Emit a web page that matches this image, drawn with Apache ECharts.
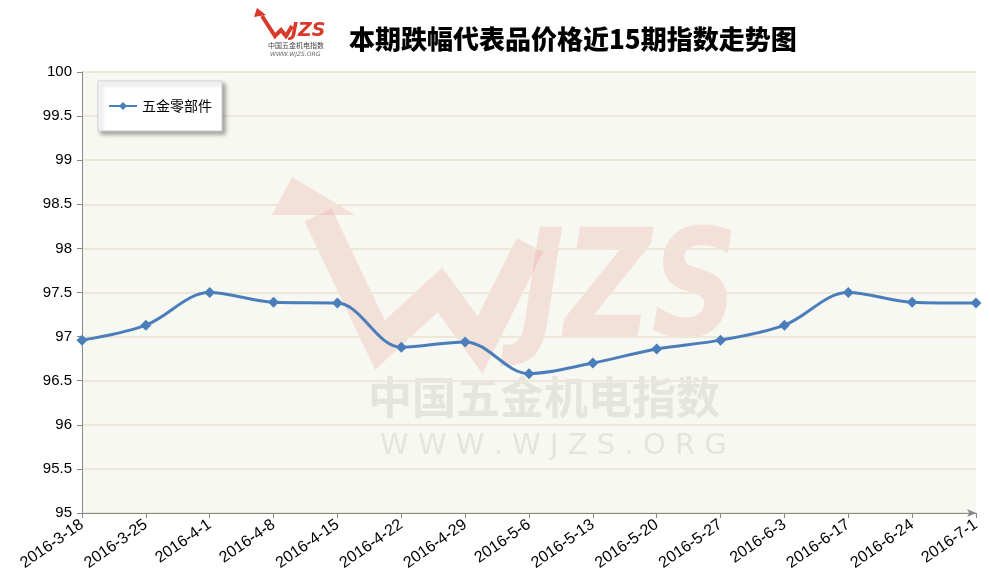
<!DOCTYPE html>
<html><head><meta charset="utf-8">
<script src="https://cdn.jsdelivr.net/npm/echarts@6/dist/echarts.min.js"></script>
<style>html,body{margin:0;padding:0;background:#fff}#c{width:990px;height:584px}</style>
</head><body><div id="c"></div>
<script>
const categories = ['2016-3-18','2016-3-25','2016-4-1','2016-4-8','2016-4-15','2016-4-22','2016-4-29','2016-5-6','2016-5-13','2016-5-20','2016-5-27','2016-6-3','2016-6-17','2016-6-24','2016-7-1'];
const seriesName = '五金零部件';
const values = [96.96, 97.13, 97.50, 97.39, 97.38, 96.88, 96.94, 96.58, 96.70, 96.86, 96.96, 97.13, 97.50, 97.39, 97.38];
const titleText = '本期跌幅代表品价格近15期指数走势图';

const chart = echarts.init(document.getElementById('c'));
const wmRed = 'rgba(232,150,140,0.24)';
chart.setOption({
  animation: false,
  backgroundColor: '#ffffff',
  title: {
    text: titleText, left: 344, top: 21,
    textStyle: {fontFamily: 'Noto Sans CJK SC', fontWeight: 900, fontSize: 26, color: '#000'}
  },
  legend: {
    data: [seriesName], left: 98, top: 81, orient: 'vertical',
    padding: [18, 10, 18, 10], itemWidth: 28, itemHeight: 10,
    backgroundColor: '#ffffff', borderColor: '#d0d0d0', borderWidth: 1,
    shadowColor: 'rgba(0,0,0,0.35)', shadowBlur: 4, shadowOffsetX: 3, shadowOffsetY: 3,
    textStyle: {fontFamily: 'Noto Sans CJK SC', fontSize: 14, color: '#000'}
  },
  grid: {left: 82, right: 14, top: 72, bottom: 71, show: true, backgroundColor: '#f8f8f2', borderWidth: 0},
  graphic: [
    {type: 'polyline', z: 0, silent: true, shape: {points: [[318, 215], [380, 345], [440, 290], [480, 345], [530, 245]]},
      style: {stroke: wmRed, lineWidth: 30, fill: null, lineJoin: 'miter'}},
    {type: 'polygon', z: 0, silent: true, shape: {points: [[292, 177], [272, 215], [355, 215]]}, style: {fill: wmRed}},
    {type: 'text', z: 0, silent: true, left: 520, top: 222, style: {text: 'JZS', fontFamily: 'DejaVu Sans', fontWeight: 'bold', fontStyle: 'italic', fontSize: 150, fill: wmRed}, scaleX: 0.8},
    {type: 'text', z: 0, silent: true, left: 368, top: 375, style: {text: '中国五金机电指数', fontFamily: 'Noto Sans CJK SC', fontWeight: 'bold', fontSize: 44, fill: 'rgba(170,170,170,0.25)'}},
    {type: 'text', z: 0, silent: true, left: 380, top: 432, style: {text: 'W W W . W J Z S . O R G', fontFamily: 'DejaVu Sans', fontSize: 29, fill: 'rgba(170,170,170,0.25)'}},
    {type: 'polyline', silent: true, shape: {points: [[262, 16], [275, 36], [281, 30], [286, 36], [292, 26]]}, style: {stroke: '#d8392b', lineWidth: 4, fill: null}},
    {type: 'polygon', silent: true, shape: {points: [[257, 8], [254, 17], [266, 15]]}, style: {fill: '#d8392b'}},
    {type: 'text', silent: true, left: 291, top: 22, style: {text: 'JZS', fontFamily: 'DejaVu Sans', fontWeight: 'bold', fontStyle: 'italic', fontSize: 19, fill: '#d8392b'}},
    {type: 'text', silent: true, left: 268, top: 42, style: {text: '中国五金机电指数', fontFamily: 'Noto Sans CJK SC', fontSize: 7, fill: '#444'}},
    {type: 'text', silent: true, left: 270, top: 51, style: {text: 'WWW.WJZS.ORG', fontFamily: 'DejaVu Sans', fontStyle: 'italic', fontSize: 6, fill: '#666'}}
  ],
  xAxis: {
    type: 'category', data: categories, boundaryGap: false,
    axisLine: {lineStyle: {color: '#888', width: 1}, symbol: ['none', 'arrow'], symbolSize: [6, 9]},
    axisTick: {show: true, alignWithLabel: true, length: 5, lineStyle: {color: '#888'}},
    axisLabel: {rotate: 35, interval: 0, fontFamily: 'Liberation Sans', fontSize: 16, color: '#000', margin: 10},
    splitLine: {show: false}
  },
  yAxis: {
    type: 'value', min: 95, max: 100, interval: 0.5,
    axisLine: {show: true, lineStyle: {color: '#888'}},
    axisTick: {show: true, length: 5, lineStyle: {color: '#888'}},
    axisLabel: {fontFamily: 'Liberation Sans', fontSize: 15, color: '#000', margin: 10},
    splitLine: {show: true, lineStyle: {color: '#ece7d6', width: 2}}
  },
  series: [{
    name: seriesName, type: 'line', data: values, smooth: 0.35,
    symbol: 'diamond', symbolSize: 11, showSymbol: true,
    lineStyle: {color: '#4a7ebb', width: 3},
    itemStyle: {color: '#4a7ebb'},
    z: 5
  }]
});
</script></body></html>
